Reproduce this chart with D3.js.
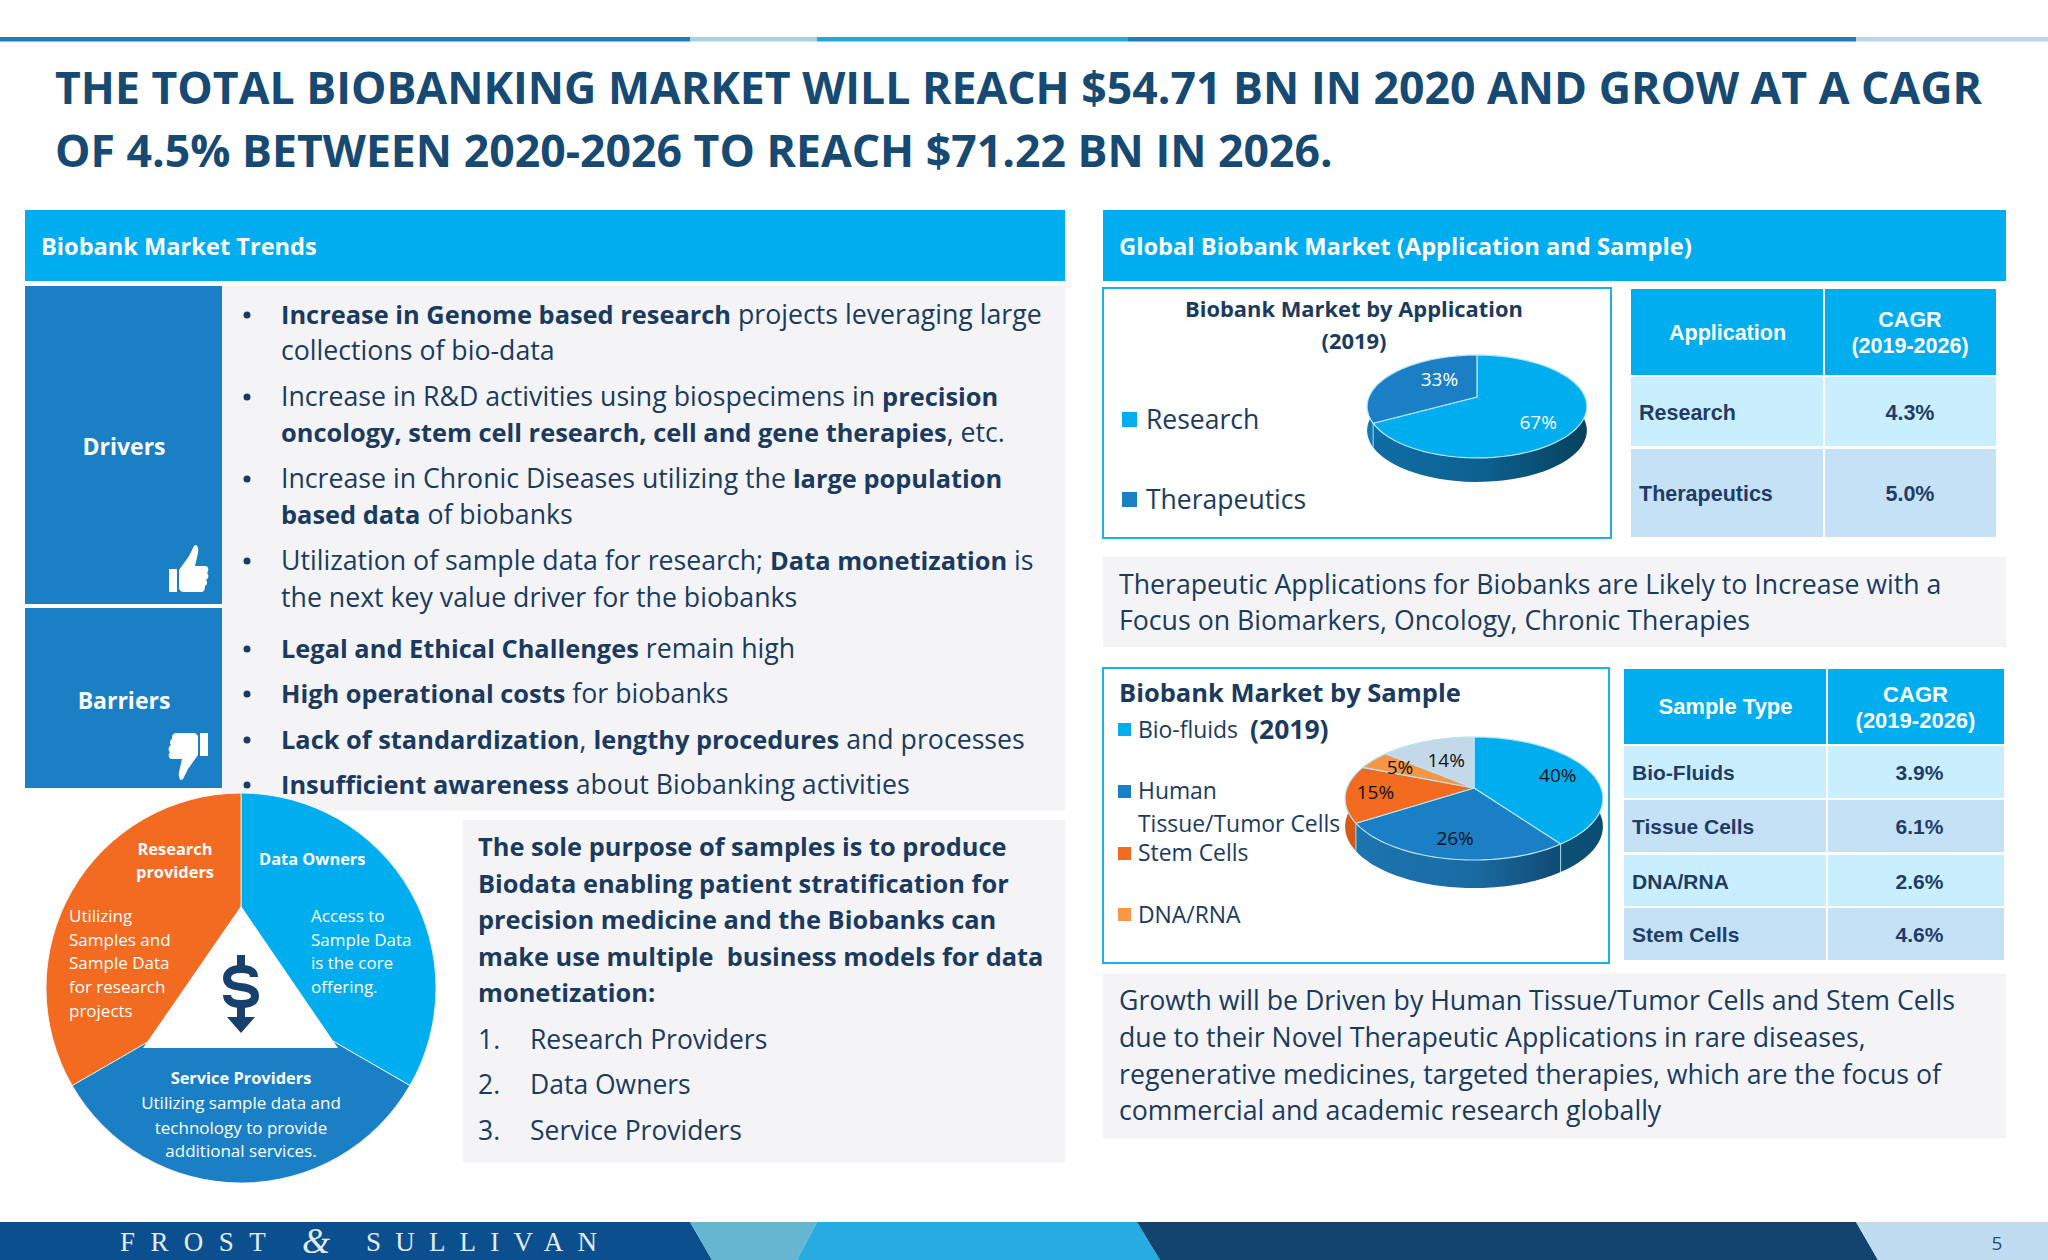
<!DOCTYPE html>
<html lang="en">
<head>
<meta charset="UTF-8">
<title>Biobanking market</title>
<script src="https://cdn.jsdelivr.net/npm/d3@7"></script>
<style>
  * { margin: 0; padding: 0; }
  html, body { background: #fff; width: 2048px; height: 1260px; overflow: hidden; }
  svg { display: block; font-family: "Open Sans", sans-serif; }
</style>
</head>
<body>
<svg id="main" width="2048" height="1260" viewBox="0 0 2048 1260"></svg>
<script>
// ---- content
const titleLines = [
  'THE TOTAL BIOBANKING MARKET WILL REACH $54.71 BN IN 2020 AND GROW AT A CAGR',
  'OF 4.5% BETWEEN 2020-2026 TO REACH $71.22 BN IN 2026.'
];
const driverLines = [
  [['Increase in Genome based research', 1], [' projects leveraging large', 0]],
  [['collections of bio-data', 0]],
  [['Increase in R&D activities using biospecimens in ', 0], ['precision', 1]],
  [['oncology, stem cell research, cell and gene therapies', 1], [', etc.', 0]],
  [['Increase in Chronic Diseases utilizing the ', 0], ['large population', 1]],
  [['based data', 1], [' of biobanks', 0]],
  [['Utilization of sample data for research; ', 0], ['Data monetization', 1], [' is', 0]],
  [['the next key value driver for the biobanks', 0]]
];
const barrierLines = [
  [['Legal and Ethical Challenges', 1], [' remain high', 0]],
  [['High operational costs', 1], [' for biobanks', 0]],
  [['Lack of standardization', 1], [', ', 0], ['lengthy procedures', 1], [' and processes', 0]],
  [['Insufficient awareness', 1], [' about Biobanking activities', 0]]
];
const purposeLines = [
  'The sole purpose of samples is to produce',
  'Biodata enabling patient stratification for',
  'precision medicine and the Biobanks can',
  'make use multiple  business models for data',
  'monetization:'
];
const modelNames = ['Research Providers', 'Data Owners', 'Service Providers'];
const note1Lines = [
  'Therapeutic Applications for Biobanks are Likely to Increase with a',
  'Focus on Biomarkers, Oncology, Chronic Therapies'
];
const note2Lines = [
  'Growth will be Driven by Human Tissue/Tumor Cells and Stem Cells',
  'due to their Novel Therapeutic Applications in rare diseases,',
  'regenerative medicines, targeted therapies, which are the focus of',
  'commercial and academic research globally'
];

// ---- chart values
const appCategories = ['Research', 'Therapeutics'];
const appShares = [67, 33];
const sampleCategories = ['Bio-fluids', 'Human Tissue/Tumor Cells', 'Stem Cells', 'DNA/RNA', 'Other'];
const sampleShares = [40, 26, 15, 5, 14];
const appTable = [['Research', '4.3%'], ['Therapeutics', '5.0%']];
const sampleTable = [['Bio-Fluids', '3.9%'], ['Tissue Cells', '6.1%'], ['DNA/RNA', '2.6%'], ['Stem Cells', '4.6%']];
const modelSegments = ['Data Owners', 'Service Providers', 'Research providers'];
const modelWeights = [1, 1, 1];

// ---- palette
const CYAN = '#00aeef', BLUE = '#1a7fc4', ORANGE = '#f26b21', LIGHT_ORANGE = '#f79646', PALE = '#c3d9ea';
const NAVY = '#1b3a60', TITLE = '#174a73', GREY = '#f4f4f6';

const svg = d3.select('#main');
const defs = svg.append('defs');

function rect(x0, y0, x1, y1, fill, parent) {
  return (parent || svg).append('rect').attr('x', x0).attr('y', y0)
    .attr('width', x1 - x0).attr('height', y1 - y0).attr('fill', fill);
}
function label(x, y, str, size, opts) {
  opts = opts || {};
  return (opts.parent || svg).append('text').attr('x', x).attr('y', y)
    .attr('font-size', size)
    .attr('font-weight', opts.bold ? 700 : 400)
    .attr('fill', opts.fill || NAVY)
    .attr('text-anchor', opts.anchor || 'start')
    .attr('font-family', opts.family || null)
    .text(str);
}
// bold runs are set a bit smaller, Open Sans bold runs wider than the original face
function rich(x, y, segs, size, boldSize) {
  const t = svg.append('text').attr('x', x).attr('y', y).attr('fill', NAVY)
    .style('white-space', 'pre');
  segs.forEach(s => t.append('tspan')
    .attr('font-weight', s[1] ? 700 : 400)
    .attr('font-size', s[1] ? boldSize : size)
    .text(s[0]));
}

// ---- top rule and footer
const ruleStops = [0, 690, 817, 1128, 1856, 2048];
const ruleColors = ['#1a7fba', '#a9cfe0', '#1fa9e1', '#1a7fba', '#bcd6e9'];
ruleColors.forEach((c, i) => rect(ruleStops[i], 37, ruleStops[i + 1], 41.5, c));

const footTop = [0, 690, 817, 1137, 1856, 2048];
const footBottom = [0, 712, 797, 1160, 1878, 2048];
const footColors = ['#0b4f8e', '#66b6d2', '#27ace2', '#13446f', '#bfdcf1'];
footColors.forEach((c, i) => {
  svg.append('polygon').attr('fill', c).attr('points',
    [[footTop[i], 1222], [footTop[i + 1], 1222], [footBottom[i + 1], 1260], [footBottom[i], 1260]].join(' '));
});
const serif = 'Liberation Serif, serif';
label(120, 1251, 'FROST', 27, {fill: '#e3ecf5', family: serif}).attr('letter-spacing', 15.4);
label(302, 1253, '&', 36, {fill: '#e3ecf5', family: serif}).attr('font-style', 'italic');
label(366, 1251, 'SULLIVAN', 27, {fill: '#e3ecf5', family: serif}).attr('letter-spacing', 14.2);
label(1997, 1250, '5', 19, {fill: '#1f4e79', anchor: 'middle'});

// ---- title
titleLines.forEach((l, i) => label(55, [104, 167][i], l, 44.6, {bold: true, fill: TITLE}));

// ---- section headers
rect(25, 210, 1065, 281, CYAN);
rect(1103, 210, 2006, 281, CYAN);
label(41, 255, 'Biobank Market Trends', 23.6, {bold: true, fill: '#fff'});
label(1119, 255, 'Global Biobank Market (Application and Sample)', 23.7, {bold: true, fill: '#fff'});

// ---- drivers / barriers
rect(222, 286, 1065, 810, GREY);
rect(25, 286, 222, 604, BLUE);
rect(25, 608, 222, 788, BLUE);
label(124, 455, 'Drivers', 23, {bold: true, fill: '#fff', anchor: 'middle'});
label(124, 709, 'Barriers', 23, {bold: true, fill: '#fff', anchor: 'middle'});

const thumb = 'M179,570 L189,556 C191,552 193,548 194,546 C197,543 199,548 198,553 L195,566 L205,566 C209,566 209,571 207,573 C209,575 209,578 206,580 C208,582 207,585 205,586 C205,590 204,592 200,592 L184,592 C181,592 179,590 179,588 Z M169,569 h8 v23 h-8 Z';
svg.append('path').attr('d', thumb).attr('fill', '#fff');
svg.append('path').attr('d', thumb).attr('fill', '#fff').attr('transform', 'translate(377,1325) rotate(180)');

const driverY = [324, 360, 406, 442, 488, 524, 570, 607];
driverLines.forEach((l, i) => rich(281, driverY[i], l, 26.7, 25.4));
[324, 406, 488, 570].forEach(y => svg.append('circle').attr('cx', 247).attr('cy', y - 9).attr('r', 3.5).attr('fill', NAVY));
const barrierY = [658, 703, 749, 794];
barrierLines.forEach((l, i) => {
  rich(281, barrierY[i], l, 26.7, 25.4);
  svg.append('circle').attr('cx', 247).attr('cy', barrierY[i] - 9).attr('r', 3.5).attr('fill', NAVY);
});

// ---- business model wheel
const wheel = svg.append('g').attr('transform', 'translate(241,988)');
const wheelArc = d3.arc().innerRadius(0).outerRadius(195);
const wheelColor = d3.scaleOrdinal().domain(modelSegments).range([CYAN, BLUE, ORANGE]);
wheel.selectAll('path')
  .data(d3.pie().sort(null)(modelWeights))
  .join('path')
  .attr('d', wheelArc)
  .attr('fill', (d, i) => wheelColor(modelSegments[i]))
  .attr('stroke', '#fff').attr('stroke-width', 0.8);
svg.append('polygon').attr('points', '241,906 143,1048 338,1048').attr('fill', '#fff');

// dollar icon
svg.append('path').attr('fill', 'none').attr('stroke', '#17406d').attr('stroke-width', 8)
  .attr('d', 'M254,977 C254,970 248,969 241,969 C230,969 227,974 227,978 C227,985 234,986 241,987 C250,988 255,991 255,996 C255,1002 249,1004 241,1004 C233,1004 227,1001 227,995');
rect(237, 955, 245, 968, '#17406d');
rect(237, 1004, 245, 1018, '#17406d');
svg.append('polygon').attr('points', '227,1017 255,1017 241,1033').attr('fill', '#17406d');

const white = {fill: '#fff'}, whiteBold = {fill: '#fff', bold: true};
label(175, 855, 'Research', 16.4, {...whiteBold, anchor: 'middle'});
label(175, 878, 'providers', 16.4, {...whiteBold, anchor: 'middle'});
label(259, 865, 'Data Owners', 16.4, whiteBold);
['Utilizing', 'Samples and', 'Sample Data', 'for research', 'projects']
  .forEach((s, i) => label(69, [922, 946, 969, 993, 1017][i], s, 17, white));
['Access to', 'Sample Data', 'is the core', 'offering.']
  .forEach((s, i) => label(311, [922, 946, 969, 993][i], s, 17, white));
label(241, 1084, 'Service Providers', 16.4, {...whiteBold, anchor: 'middle'});
['Utilizing sample data and', 'technology to provide', 'additional services.']
  .forEach((s, i) => label(241, [1109, 1134, 1157][i], s, 17, {...white, anchor: 'middle'}));

// ---- purpose panel
rect(463, 820, 1065, 1162, GREY);
purposeLines.forEach((l, i) => label(478, [856, 893, 929, 966, 1002][i], l, 25.4, {bold: true}).style('white-space', 'pre'));
modelNames.forEach((l, i) => {
  const y = [1049, 1094, 1140][i];
  label(478, y, (i + 1) + '.', 26.5);
  label(530, y, l, 26.5);
});

// ---- grey notes
rect(1103, 557, 2006, 647, GREY);
note1Lines.forEach((l, i) => label(1119, [594, 630][i], l, 26.7));
rect(1103, 974, 2006, 1138, GREY);
note2Lines.forEach((l, i) => label(1119, [1010, 1047, 1084, 1120][i], l, 26.7));

// ---- chart boxes
function box(x0, y0, x1, y1) {
  rect(x0, y0, x1, y1, '#fff').attr('stroke', '#1fb0e8').attr('stroke-width', 2);
}
box(1103, 288, 1611, 538);
box(1103, 668, 1609, 963);
label(1354, 317, 'Biobank Market by Application', 21.9, {bold: true, anchor: 'middle'});
label(1354, 349, '(2019)', 21.9, {bold: true, anchor: 'middle'});

appCategories.forEach((c, i) => {
  const top = [412, 492][i];
  rect(1122, top, 1137, top + 15, [CYAN, BLUE][i]);
  label(1146, top + 17, c, 26.5);
});
label(1119, 702, 'Biobank Market by Sample', 25.5, {bold: true});
label(1250, 739, '(2019)', 26.5, {bold: true});
[[723, CYAN], [785, BLUE], [847, ORANGE], [908, LIGHT_ORANGE]].forEach(d => rect(1118, d[0], 1131, d[0] + 13, d[1]));
label(1138, 738, 'Bio-fluids', 22.9);
label(1138, 799, 'Human', 22.9);
label(1138, 832, 'Tissue/Tumor Cells', 22.9);
label(1138, 861, 'Stem Cells', 22.9);
label(1138, 923, 'DNA/RNA', 22.9);

// ---- 3D pies, top face in a small perspective so the centre sits behind the ellipse middle
function pie3d(cfg) {
  const g = svg.append('g');
  const proj = (a, f) => {
    const u = Math.sin(a) * f, v = -Math.cos(a) * f, w = 1 - cfg.p * v;
    return [cfg.cx + cfg.rx * u / w, cfg.cy + cfg.k * v / w];
  };
  const arcPts = (a0, a1) => d3.range(0, 61).map(i => proj(a0 + (a1 - a0) * i / 60, 1));
  const line = d3.line();
  const arcs = d3.pie().sort(null)(cfg.values);

  // side wall first, top face hides the back half of it
  arcs.forEach((d, i) => {
    const top = arcPts(d.startAngle, d.endAngle);
    const low = top.map(p => [p[0], p[1] + cfg.depth]).reverse();
    const id = cfg.id + 'w' + i;
    const grad = defs.append('linearGradient').attr('id', id).attr('gradientUnits', 'userSpaceOnUse')
      .attr('x1', cfg.cx - cfg.rx).attr('x2', cfg.cx + cfg.rx).attr('y1', 0).attr('y2', 0);
    cfg.walls[i].forEach((c, j, all) => grad.append('stop').attr('offset', j / (all.length - 1)).attr('stop-color', c));
    g.append('path').attr('d', line(top.concat(low)) + 'Z').attr('fill', 'url(#' + id + ')');
  });
  arcs.forEach((d, i) => {
    const a = d.endAngle, p = proj(a, 1);
    if (Math.cos(a) < -0.3 && i < arcs.length - 1) {
      g.append('line').attr('x1', p[0]).attr('y1', p[1]).attr('x2', p[0]).attr('y2', p[1] + cfg.depth)
        .attr('stroke', '#9ddcf5').attr('stroke-width', 1);
    }
  });
  arcs.forEach((d, i) => {
    const pts = [[cfg.cx, cfg.cy]].concat(arcPts(d.startAngle, d.endAngle));
    g.append('path').attr('d', line(pts) + 'Z').attr('fill', cfg.tops[i])
      .attr('stroke', '#b5e6f9').attr('stroke-width', 1.2).attr('stroke-linejoin', 'round');
  });
  arcs.forEach((d, i) => {
    const mid = (d.startAngle + d.endAngle) / 2, p = proj(mid, cfg.labelR[i]);
    label(p[0], p[1] + cfg.labelDy[i] + 7, d.value + '%', 19, {fill: cfg.labelFill, anchor: 'middle'});
  });
}
pie3d({
  id: 'app', values: appShares, cx: 1477, cy: 397, rx: 108, k: 49.7, p: 0.184, depth: 24,
  tops: [CYAN, BLUE], walls: [['#0f6ea6', '#0c6291', '#08425f'], ['#1678ae', '#1678ae']],
  labelR: [0.62, 0.42], labelDy: [8, -8], labelFill: '#fff'
});
pie3d({
  id: 'sample', values: sampleShares, cx: 1474, cy: 788, rx: 127, k: 59.7, p: 0.171, depth: 28,
  tops: [CYAN, BLUE, ORANGE, LIGHT_ORANGE, PALE],
  walls: [['#0d5f8a', '#0b4d72'], ['#1d75b0', '#1a6ba3', '#0a3a5c'], ['#d55a15', '#d55a15'], ['#d88338', '#d88338'], ['#a8bfd0', '#a8bfd0']],
  labelR: [0.72, 0.7, 0.77, 0.72, 0.56], labelDy: [0, 3, 0, 0, 0], labelFill: '#111'
});

// ---- CAGR tables
const tableNavy = '#1f3c66';
function table(cfg) {
  const font = {bold: true, family: 'Liberation Sans, Arial, sans-serif'};
  rect(cfg.x0, cfg.y0, cfg.xm - 1, cfg.headBottom, CYAN);
  rect(cfg.xm + 1, cfg.y0, cfg.x1, cfg.headBottom, CYAN);
  const cy = (cfg.y0 + cfg.headBottom) / 2;
  label((cfg.x0 + cfg.xm) / 2, cy + 7.5, cfg.head, cfg.headSize, {...font, fill: '#fff', anchor: 'middle'});
  const hx = (cfg.xm + cfg.x1) / 2;
  label(hx, cy - 5, 'CAGR', cfg.headSize, {...font, fill: '#fff', anchor: 'middle'});
  label(hx, cy + 21, '(2019-2026)', cfg.headSize, {...font, fill: '#fff', anchor: 'middle'});
  cfg.rows.forEach((r, i) => {
    const top = cfg.edges[i][0], bot = cfg.edges[i][1], c = cfg.fills[i % 2];
    rect(cfg.x0, top, cfg.xm - 1, bot, c);
    rect(cfg.xm + 1, top, cfg.x1, bot, c);
    label(cfg.x0 + 8, (top + bot) / 2 + 8, r[0], cfg.size, {...font, fill: tableNavy});
    label(hx + cfg.valueShift, (top + bot) / 2 + 8, r[1], cfg.size, {...font, fill: tableNavy, anchor: 'middle'});
  });
}
table({
  head: 'Application', rows: appTable, x0: 1631, xm: 1824, x1: 1996, y0: 289, headBottom: 375,
  edges: [[377, 446], [449, 537]], size: 21.5, headSize: 21.5, valueShift: 0, fills: ['#c9effe', '#c5e1f6']
});
table({
  head: 'Sample Type', rows: sampleTable, x0: 1624, xm: 1827, x1: 2004, y0: 669, headBottom: 744,
  edges: [[746, 798], [800, 852], [855, 906], [908, 960]], size: 21, headSize: 22, valueShift: 4, fills: ['#c9effe', '#c5e1f6']
});
</script>
</body>
</html>
